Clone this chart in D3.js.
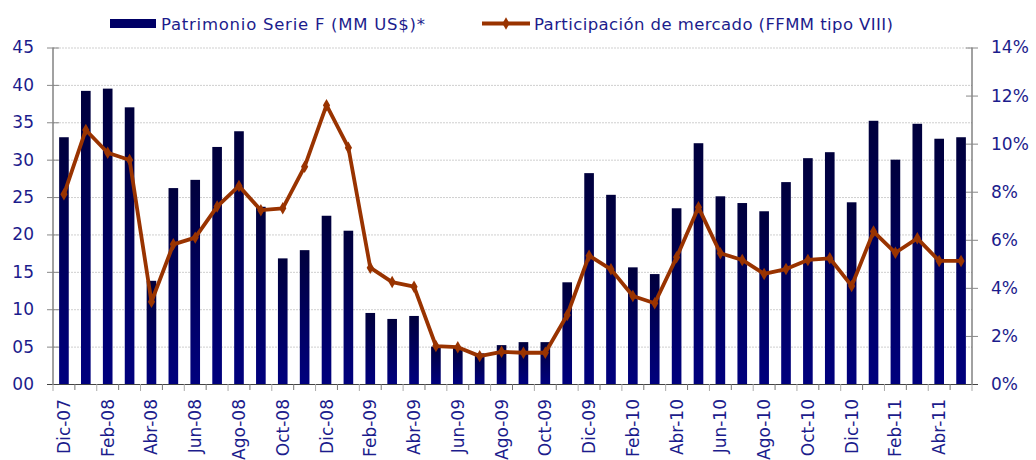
<!DOCTYPE html>
<html><head><meta charset="utf-8">
<script src="https://cdn.jsdelivr.net/npm/d3@7/dist/d3.min.js"></script>
<style>body{margin:0;background:#fff}svg{display:block}</style>
</head><body>
<svg id="c" width="1036" height="460"></svg>
<script>
const categories = ["Dic-07","Ene-08","Feb-08","Mar-08","Abr-08","May-08","Jun-08","Jul-08","Ago-08","Sep-08","Oct-08","Nov-08",
"Dic-08","Ene-09","Feb-09","Mar-09","Abr-09","May-09","Jun-09","Jul-09","Ago-09","Sep-09","Oct-09","Nov-09",
"Dic-09","Ene-10","Feb-10","Mar-10","Abr-10","May-10","Jun-10","Jul-10","Ago-10","Sep-10","Oct-10","Nov-10",
"Dic-10","Ene-11","Feb-11","Mar-11","Abr-11","May-11"];
const patrimonio = [33.0,39.2,39.5,37.0,13.8,26.2,27.3,31.7,33.8,23.7,16.8,17.9,
22.5,20.5,9.5,8.7,9.1,5.0,4.9,4.1,5.2,5.6,5.6,13.6,
28.2,25.3,15.6,14.7,23.5,32.2,25.1,24.2,23.1,27.0,30.2,31.0,
24.3,35.2,30.0,34.8,32.8,33.0];
const participacion = [7.89,10.57,9.62,9.32,3.42,5.81,6.09,7.38,8.24,7.23,7.31,9.04,
11.6,9.83,4.84,4.24,4.05,1.58,1.53,1.16,1.34,1.30,1.30,2.87,
5.34,4.77,3.66,3.36,5.27,7.35,5.44,5.16,4.58,4.78,5.16,5.23,
4.08,6.34,5.46,6.06,5.12,5.12];
const leftTicks = [0,5,10,15,20,25,30,35,40,45];
const rightTicks = [0,2,4,6,8,10,12,14];
const seriesNames = ["Patrimonio Serie F (MM US$)*","Participación de mercado (FFMM tipo VIII)"];

const svg = d3.select("#c");
const L = 53, R = 972, T = 47.5, B = 384;
const textColor = "#1c1c8c";
const font = "DejaVu Sans, Verdana, sans-serif";

const x = d3.scaleBand().domain(categories).range([L, R]).paddingInner(0.56).paddingOuter(0.28);
const yL = d3.scaleLinear().domain([0,45]).range([B, T]);
const yR = d3.scaleLinear().domain([0,14]).range([B, T]);

const defs = svg.append("defs");
const grad = defs.append("linearGradient").attr("id","bg").attr("x1",0).attr("y1",0).attr("x2",0).attr("y2",1);
grad.append("stop").attr("offset","0%").attr("stop-color","#00003c");
grad.append("stop").attr("offset","100%").attr("stop-color","#00007e");

// grid
svg.append("g").selectAll("line").data(leftTicks.filter(d=>d>0)).join("line")
  .attr("x1",L).attr("x2",R).attr("y1",d=>yL(d)+0.5).attr("y2",d=>yL(d)+0.5)
  .attr("stroke","#cfcfcf").attr("stroke-width",1).attr("stroke-dasharray","2,1");

// bars
svg.append("g").selectAll("rect").data(categories).join("rect")
  .attr("x",d=>x(d)).attr("width",x.bandwidth())
  .attr("y",(d,i)=>yL(patrimonio[i])).attr("height",(d,i)=>B-yL(patrimonio[i]))
  .attr("fill","url(#bg)");

// axes
const axL = svg.append("g").attr("transform",`translate(${L},0)`)
  .call(d3.axisLeft(yL).tickValues(leftTicks).tickFormat(d3.format("02d")).tickSizeInner(6).tickSizeOuter(0).tickPadding(13));
const axR = svg.append("g").attr("transform",`translate(${R},0)`)
  .call(d3.axisRight(yR).tickValues(rightTicks).tickFormat(d=>d+"%").tickSizeInner(6).tickSizeOuter(0).tickPadding(13));
[axL,axR].forEach(a=>{
  a.select(".domain").attr("stroke","#444").attr("d", `M0,${T}V${B}`);
  a.selectAll(".tick line").attr("stroke","#888").each(function(){
    const s=d3.select(this); const x2=+s.attr("x2"); s.attr("x1",-x2);
  });
  a.selectAll("text").attr("fill",textColor).style("font-family",font).style("font-size","17px");
});

const axB = svg.append("g").attr("transform",`translate(0,${B})`);
axB.append("line").attr("x1",L-6).attr("x2",R+6).attr("y1",0.5).attr("y2",0.5).attr("stroke","#444");
const step = x.step();
axB.selectAll("line.t").data(d3.range(categories.length+1)).join("line").attr("class","t")
  .attr("x1",i=>L+i*step).attr("x2",i=>L+i*step).attr("y1",0).attr("y2",i=>i%2?6:7)
  .attr("stroke",i=>i%2?"#777":"#aaa");
axB.selectAll("text").data(categories.filter((d,i)=>i%2===0)).join("text")
  .attr("transform",d=>`translate(${x(d)+x.bandwidth()/2+6},15) rotate(-90)`)
  .attr("text-anchor","end").attr("fill",textColor)
  .style("font-family",font).style("font-size","17px").text(d=>d);

// line
const lineColor = "#993300";
const line = d3.line().x((d,i)=>x(categories[i])+x.bandwidth()/2).y(d=>yR(d));
svg.append("path").datum(participacion).attr("d",line).attr("fill","none")
  .attr("stroke",lineColor).attr("stroke-width",3.8).attr("stroke-linejoin","round");
const sym = d3.symbol().type(d3.symbolDiamond).size(45);
svg.append("g").selectAll("path").data(participacion).join("path")
  .attr("transform",(d,i)=>`translate(${x(categories[i])+x.bandwidth()/2},${yR(d)})`)
  .attr("d",sym).attr("fill",lineColor);

// legend
const lg = svg.append("g");
lg.append("rect").attr("x",110).attr("y",19).attr("width",46).attr("height",9).attr("fill","#000066");
lg.append("text").attr("x",161).attr("y",29.5).attr("fill",textColor)
  .attr("textLength",264).attr("lengthAdjust","spacing")
  .style("font-family",font).style("font-size","16.5px").text(seriesNames[0]);
lg.append("line").attr("x1",482).attr("x2",530).attr("y1",23.5).attr("y2",23.5).attr("stroke",lineColor).attr("stroke-width",3.8);
lg.append("path").attr("transform","translate(506,23.5)").attr("d",sym).attr("fill",lineColor);
lg.append("text").attr("x",534).attr("y",29.5).attr("fill",textColor)
  .attr("textLength",359).attr("lengthAdjust","spacing")
  .style("font-family",font).style("font-size","16.5px").text(seriesNames[1]);
</script>
</body></html>
